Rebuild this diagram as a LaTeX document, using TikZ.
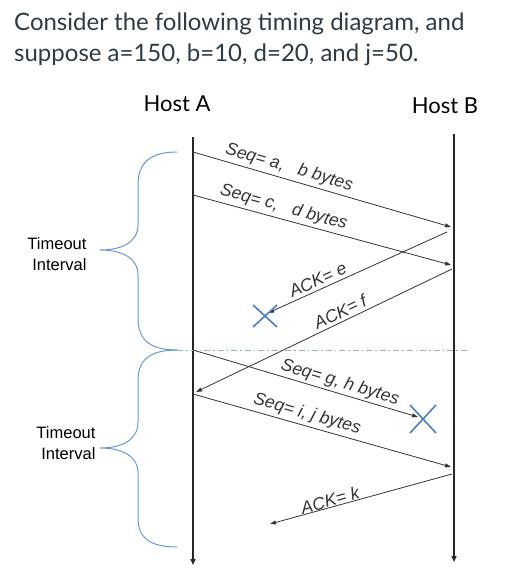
\documentclass[tikz,border=0pt]{standalone}
\usepackage{fontspec}
\setmainfont{Lato}
\newfontfamily\arialf{Liberation Sans}
\usetikzlibrary{arrows.meta}
\definecolor{txtgray}{HTML}{2D3B45}
\definecolor{bracecol}{HTML}{6A98CC}
\definecolor{xcol}{HTML}{4A7FC0}
\definecolor{dashcol}{HTML}{8FB3DC}
\tikzset{
  timeline/.style={line width=1.4pt, black!85, -{Triangle[length=6pt,width=5pt]}},
  msg/.style={line width=0.8pt, black!80, -{Triangle[length=6pt,width=4pt]}},
  lbl/.style={font=\arialf\itshape\fontsize{17.5}{17.5}\selectfont, sloped, above, inner sep=1.5pt},
  brace/.style={line width=1pt, bracecol},
  lossx/.style={line width=1.6pt, xcol},
  hostlbl/.style={font=\fontsize{22}{22}\selectfont, anchor=base},
  tolbl/.style={font=\arialf\fontsize{16.5}{21}\selectfont, align=right, anchor=east},
  titlelbl/.style={anchor=base west, inner sep=0, text=txtgray, font=\fontsize{24}{24}\selectfont},
}
\begin{document}
\begin{tikzpicture}[x=1pt,y=-1pt]
\useasboundingbox (0,0) rectangle (513,578);
% title
\node[titlelbl] (t1) at (14,31) {Consider the following timing diagram, and};
\node[titlelbl] (t2) at (14,62) {suppose a=150, b=10, d=20, and j=50.};
% hosts
\node[hostlbl] (ha) at (177,111) {Host A};
\node[hostlbl] (hb) at (445,113) {Host B};
% timelines
\coordinate (atop) at (193,137);
\coordinate (abot) at (193,565);
\coordinate (btop) at (454,134);
\coordinate (bbot) at (454,562);
\draw[timeline] (atop) -- (abot);
\draw[timeline] (btop) -- (bbot);
% dash-dot timeout line
\coordinate (d1) at (177,350);
\coordinate (d2) at (468,350);
\draw[dashcol, line width=1pt, dash pattern=on 6pt off 3pt on 1.5pt off 3pt] (d1) -- (d2);
% messages
\coordinate (a1) at (193,152); \coordinate (b1) at (451,227);
\coordinate (a2) at (193,195); \coordinate (b2) at (451,265);
\coordinate (b3) at (447,232); \coordinate (x1) at (268,313);
\coordinate (b4) at (452,269); \coordinate (a4) at (196,392);
\coordinate (a5) at (193,350); \coordinate (x2) at (418,417);
\coordinate (a6) at (193,394); \coordinate (b6) at (451,467);
\coordinate (b7) at (452,474); \coordinate (a7) at (270,524);
\draw[msg] (a1) -- node[lbl, pos=0.36, inner sep=3pt] {Seq= a,\ \ \ b bytes} (b1);
\draw[msg] (a2) -- node[lbl, pos=0.34, inner sep=3pt] {Seq= c,\ \ \ d bytes} (b2);
\draw[msg] (b3) -- node[lbl, pos=0.70, inner sep=3pt] {ACK= e} (x1);
\draw[msg] (b4) -- node[lbl, pos=0.42, inner sep=3pt] {ACK= f} (a4);
\draw[msg] (a5) -- node[lbl, pos=0.64, inner sep=2pt] {Seq= g, h bytes} (x2);
\draw[msg] (a6) -- node[lbl, pos=0.43, inner sep=3pt] {Seq= i, j bytes} (b6);
\draw[msg] (b7) -- node[lbl, pos=0.66, inner sep=0pt] {ACK= k} (a7);
% loss marks
\coordinate (xa) at (265,316);
\coordinate (xb) at (423,419);
\draw[lossx] ([shift={(-12,-11)}]xa) -- ([shift={(12,11)}]xa);
\draw[lossx] ([shift={(-12,11)}]xa) -- ([shift={(12,-11)}]xa);
\draw[lossx] ([shift={(-13,-14)}]xb) -- ([shift={(13,14)}]xb);
\draw[lossx] ([shift={(-13,14)}]xb) -- ([shift={(13,-14)}]xb);
% braces
\draw[brace] (177,152) .. controls (150,152) and (138,163) .. (138,185)
  -- (138,225) .. controls (138,242) and (122,250) .. (100,250)
  .. controls (122,250) and (138,258) .. (138,275)
  -- (138,318) .. controls (138,340) and (150,350) .. (177,350);
\draw[brace] (177,350) .. controls (150,350) and (138,360) .. (138,380)
  -- (138,422) .. controls (138,440) and (122,448) .. (100,448)
  .. controls (122,448) and (138,456) .. (138,473)
  -- (138,518) .. controls (138,538) and (150,547) .. (177,547);
% timeout labels
\node[tolbl] (to1) at (90,254) {Timeout\\Interval};
\node[tolbl] (to2) at (99,443) {Timeout\\Interval};
\end{tikzpicture}
\end{document}
